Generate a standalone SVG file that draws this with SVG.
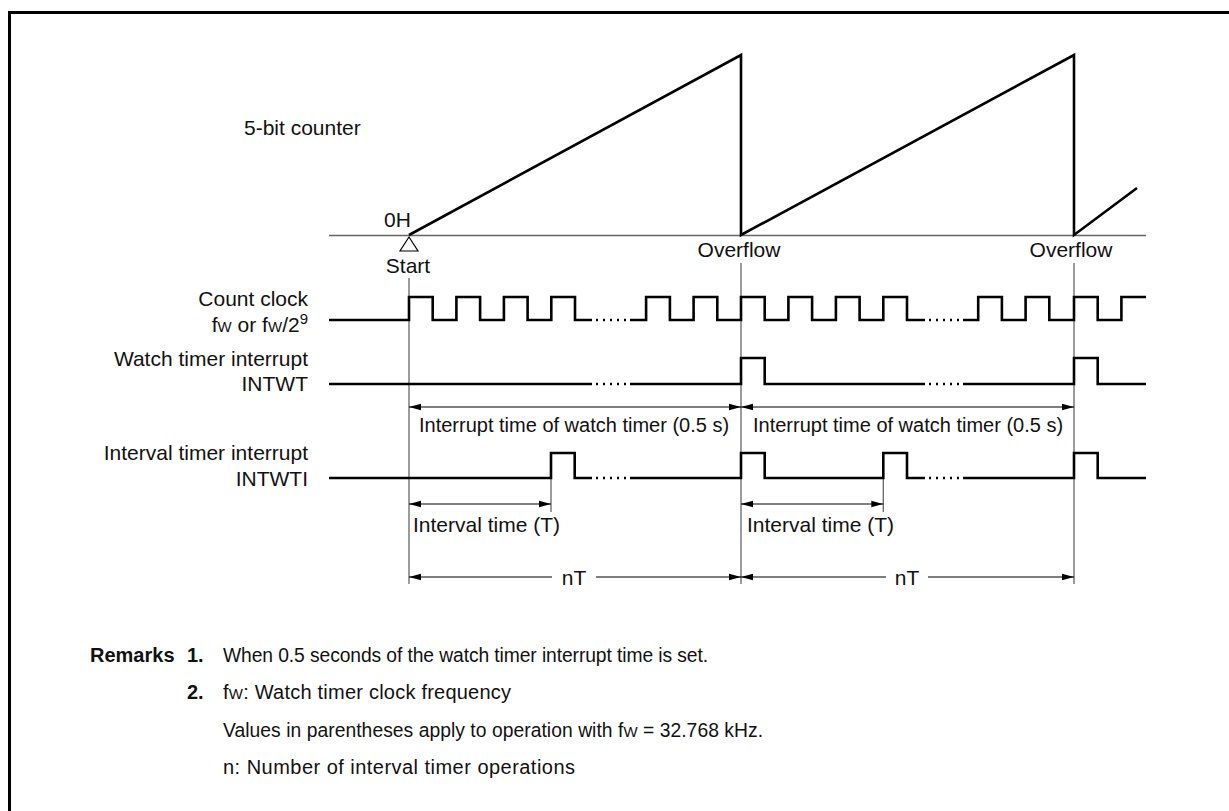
<svg xmlns="http://www.w3.org/2000/svg" width="1229" height="811" viewBox="0 0 1229 811">
<style>
text{font-family:"Liberation Sans",Arial,Helvetica,sans-serif;font-size:21px;fill:#111}
.b{font-weight:bold;font-size:20px}
.r{font-size:20px}
.r2{font-size:19.3px}
.it{font-size:20px}
.sig{fill:none;stroke:#000;stroke-width:2.6;stroke-linejoin:miter}
.dot{fill:none;stroke:#000;stroke-width:2.4;stroke-dasharray:2 5}
.guide{fill:none;stroke:#666;stroke-width:1.3}
.dim{fill:none;stroke:#000;stroke-width:1.1}
.mid{text-anchor:middle}
.end{text-anchor:end}
.sm{font-size:15px}
</style>
<defs>
<marker id="ah" viewBox="0 0 12 8" refX="12" refY="4" markerWidth="12" markerHeight="8" markerUnits="userSpaceOnUse" orient="auto-start-reverse">
<path d="M0,0.8 L12,4 L0,7.2 Z" fill="#000"/>
</marker>
</defs>
<rect width="1229" height="811" fill="#fff"/>
<path d="M9.5,811 V12.5 H1229" fill="none" stroke="#000" stroke-width="3"/>

<g id="counter">
<text x="244" y="135">5-bit counter</text>
<line class="guide" x1="329" y1="235.5" x2="1146" y2="235.5"/>
<path class="sig" d="M409,235 L741,55 V235 L1074,55 V235 L1137,188"/>
<text x="384" y="227">0H</text>
<polygon points="409,237 400,251 418,251" fill="#fff" stroke="#000" stroke-width="1.2"/>
<text class="mid" x="408" y="273">Start</text>
<text class="mid" x="739" y="257">Overflow</text>
<text class="mid" x="1071" y="257">Overflow</text>
</g>

<g id="guides">
<line class="guide" x1="409" y1="278" x2="409" y2="584"/>
<line class="guide" x1="741" y1="263" x2="741" y2="584"/>
<line class="guide" x1="1074" y1="263" x2="1074" y2="584"/>
<line class="guide" x1="551" y1="478" x2="551" y2="512"/>
<line class="guide" x1="883.3" y1="478" x2="883.3" y2="512"/>
</g>

<g id="count-clock">
<text class="end" x="308" y="306">Count clock</text>
<text class="end" x="308" y="332">f<tspan class="sm">W</tspan> or f<tspan class="sm">W</tspan>/2<tspan class="sm" dy="-8">9</tspan></text>
<path class="sig" d="M329,320 H409 V297 H432.7 V320 H456.4 V297 H480.1 V320 H503.9 V297 H527.6 V320 H551.3 V297 H575 V320 H592"/>
<line class="dot" x1="596" y1="320" x2="626" y2="320"/>
<path class="sig" d="M630,320 H646.1 V297 H669.9 V320 H693.6 V297 H717.3 V320 H741 V297 H764.7 V320 H788.4 V297 H812.1 V320 H835.9 V297 H859.6 V320 H883.3 V297 H907 V320 H925"/>
<line class="dot" x1="929" y1="320" x2="959" y2="320"/>
<path class="sig" d="M963,320 H978.2 V297 H1001.9 V320 H1025.6 V297 H1049.3 V320 H1074 V297 H1097.7 V320 H1121.4 V297 H1146"/>
</g>

<g id="intwt">
<text class="end" x="308" y="366">Watch timer interrupt</text>
<text class="end" x="308" y="391">INTWT</text>
<path class="sig" d="M329,384 H592"/>
<line class="dot" x1="596" y1="384" x2="626" y2="384"/>
<path class="sig" d="M630,384 H741 V358 H764.7 V384 H925"/>
<line class="dot" x1="929" y1="384" x2="959" y2="384"/>
<path class="sig" d="M963,384 H1074 V358 H1097.7 V384 H1146"/>
</g>

<g id="intwti">
<text class="end" x="308" y="460">Interval timer interrupt</text>
<text class="end" x="308" y="486">INTWTI</text>
<path class="sig" d="M329,478 H551 V453 H574.7 V478 H592"/>
<line class="dot" x1="596" y1="478" x2="626" y2="478"/>
<path class="sig" d="M630,478 H741 V453 H764.7 V478 H883.3 V453 H907 V478 H925"/>
<line class="dot" x1="929" y1="478" x2="959" y2="478"/>
<path class="sig" d="M963,478 H1074 V453 H1097.7 V478 H1146"/>
</g>

<g id="connectors">
<line class="dim" x1="409" y1="407" x2="741" y2="407" marker-start="url(#ah)" marker-end="url(#ah)"/>
<line class="dim" x1="741" y1="407" x2="1074" y2="407" marker-start="url(#ah)" marker-end="url(#ah)"/>
<line class="dim" x1="409" y1="504" x2="551" y2="504" marker-start="url(#ah)" marker-end="url(#ah)"/>
<line class="dim" x1="741" y1="504" x2="883.3" y2="504" marker-start="url(#ah)" marker-end="url(#ah)"/>
<line class="dim" x1="409" y1="577" x2="552" y2="577" marker-start="url(#ah)"/>
<line class="dim" x1="596" y1="577" x2="741" y2="577" marker-end="url(#ah)"/>
<line class="dim" x1="741" y1="577" x2="886" y2="577" marker-start="url(#ah)"/>
<line class="dim" x1="928" y1="577" x2="1074" y2="577" marker-end="url(#ah)"/>
</g>

<g id="labels">
<text class="it" x="419" y="432">Interrupt time of watch timer (0.5 s)</text>
<text class="it" x="753" y="432">Interrupt time of watch timer (0.5 s)</text>
<text x="413" y="532">Interval time (T)</text>
<text x="747" y="532">Interval time (T)</text>
<text class="mid" x="574" y="585">nT</text>
<text class="mid" x="907" y="585">nT</text>
</g>

<g id="remarks">
<text class="b" x="90" y="662">Remarks</text>
<text class="b" x="187" y="662">1.</text>
<text class="r2" x="223" y="662" textLength="485" lengthAdjust="spacing">When 0.5 seconds of the watch timer interrupt time is set.</text>
<text class="b" x="187" y="699">2.</text>
<text class="r" x="223" y="699" textLength="288" lengthAdjust="spacing">f<tspan class="sm">W</tspan>: Watch timer clock frequency</text>
<text class="r2" x="223" y="737" textLength="540" lengthAdjust="spacing">Values in parentheses apply to operation with f<tspan class="sm">W</tspan> = 32.768 kHz.</text>
<text class="r" x="223" y="774" textLength="352" lengthAdjust="spacing">n: Number of interval timer operations</text>
</g>
</svg>
